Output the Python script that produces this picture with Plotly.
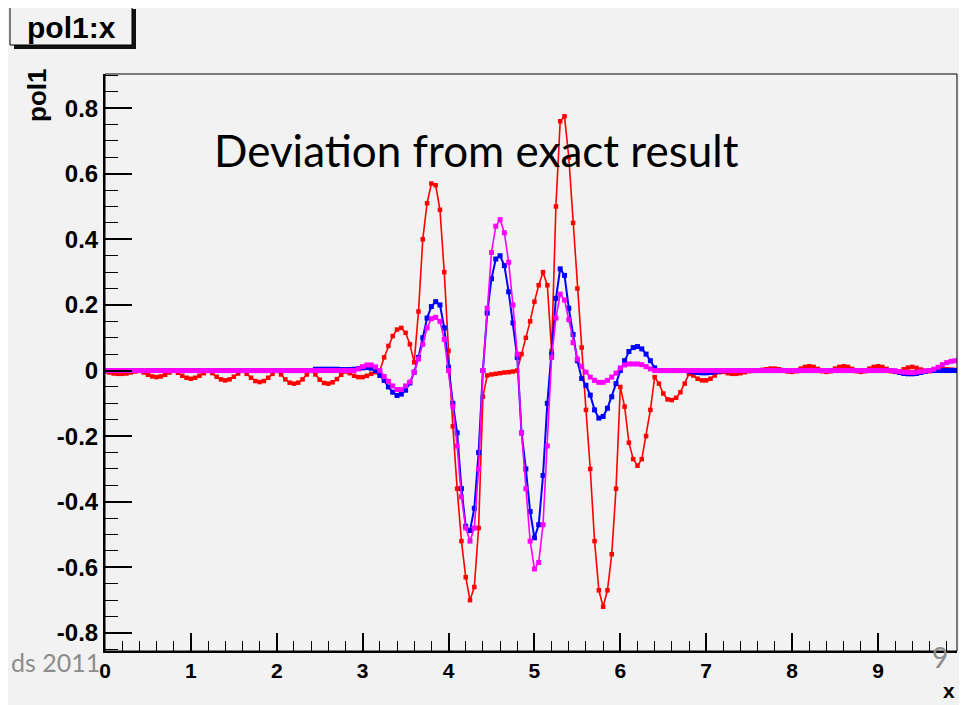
import plotly.graph_objects as go

# x sampling of the three curves (step 0.05)
x_vals = [round(0.05 * i, 2) for i in range(200)]

red_vals = [
    -0.003, -0.006, -0.009, -0.010, -0.010, -0.009, -0.006, -0.003, 0.000, -0.006, -0.013, -0.018, -0.020, -0.018, -0.013, -0.006, 0.000, -0.007, -0.016, -0.022,
    -0.025, -0.022, -0.016, -0.008, -0.001, -0.008, -0.019, -0.027, -0.030, -0.027, -0.019, -0.009, 0.000, -0.010, -0.022, -0.032, -0.035, -0.032, -0.022, -0.010,
    0.000, -0.012, -0.027, -0.037, -0.040, -0.037, -0.027, -0.012, 0.000, -0.012, -0.028, -0.038, -0.040, -0.036, -0.026, -0.013, -0.003, -0.008, -0.016, -0.020,
    -0.020, -0.016, -0.010, -0.005, 0.000, 0.040, 0.075, 0.105, 0.125, 0.130, 0.115, 0.080, 0.025, 0.180, 0.400, 0.510, 0.570, 0.565, 0.490, 0.300,
    0.060, -0.170, -0.360, -0.520, -0.630, -0.700, -0.660, -0.480, -0.080, -0.015, -0.012, -0.010, -0.008, -0.006, -0.005, -0.003, 0.000, 0.050, 0.100, 0.150,
    0.210, 0.260, 0.300, 0.260, 0.060, 0.500, 0.760, 0.775, 0.650, 0.450, 0.250, 0.070, -0.120, -0.300, -0.520, -0.670, -0.720, -0.670, -0.560, -0.360,
    -0.050, -0.110, -0.220, -0.270, -0.290, -0.270, -0.200, -0.120, -0.020, -0.040, -0.070, -0.088, -0.090, -0.083, -0.066, -0.040, -0.010, -0.015, -0.025, -0.030,
    -0.030, -0.025, -0.015, -0.005, -0.004, -0.008, -0.010, -0.010, -0.008, -0.005, -0.002, -0.001, 0.000, 0.002, 0.004, 0.006, 0.006, 0.004, 0.001, -0.003,
    -0.004, -0.002, 0.006, 0.011, 0.013, 0.011, 0.005, -0.002, -0.004, -0.002, 0.006, 0.011, 0.013, 0.011, 0.005, -0.002, -0.004, -0.002, 0.006, 0.011,
    0.013, 0.011, 0.005, -0.002, -0.004, -0.002, 0.004, 0.009, 0.011, 0.008, 0.003, -0.001, -0.002, 0.000, 0.002, 0.004, 0.004, 0.003, 0.002, 0.000,
]

blue_vals = [
    0, 0, 0, 0, 0, 0, 0, 0, 0, 0, 0, 0, 0, 0, 0, 0, 0, 0, 0, 0,
    0, 0, 0, 0, 0, 0, 0, 0, 0, 0, 0, 0, 0, 0, 0, 0, 0, 0, 0, 0,
    0, 0, 0, 0, 0, 0, 0, 0, 0, 0.004, 0.004, 0.004, 0.004, 0.004, 0.004, 0.003, 0.003, 0.003, 0.004, 0.006,
    0.008, 0.009, 0.007, 0.000, -0.015, -0.030, -0.050, -0.066, -0.076, -0.072, -0.060, -0.038, -0.005, 0.040, 0.100, 0.160, 0.195, 0.210, 0.200, 0.130,
    0.010, -0.100, -0.190, -0.360, -0.475, -0.488, -0.420, -0.250, 0.000, 0.175, 0.280, 0.340, 0.350, 0.320, 0.240, 0.145, 0.040, -0.190, -0.300, -0.430,
    -0.510, -0.470, -0.320, -0.100, 0.050, 0.220, 0.310, 0.290, 0.190, 0.110, 0.030, -0.024, -0.045, -0.075, -0.120, -0.145, -0.140, -0.115, -0.080, -0.040,
    0.000, 0.030, 0.058, 0.070, 0.073, 0.066, 0.050, 0.030, 0.008, 0.000, 0, 0, 0, 0, 0, 0, -0.002, -0.004, -0.006, -0.007,
    -0.007, -0.006, -0.004, -0.002, 0, 0, 0, 0, 0, 0, 0, 0, 0, 0, 0, 0, 0, 0, 0, 0,
    0, 0, 0, 0, 0, 0, 0, 0, 0, 0, 0, 0, 0, 0, 0, 0, 0, 0, 0, 0,
    0, 0, 0, 0, -0.002, -0.006, -0.009, -0.010, -0.010, -0.009, -0.006, -0.003, 0, 0, 0, 0, 0, 0, 0, 0,
]

magenta_vals = [
    0, 0, 0, 0, 0, 0, 0, 0, 0, 0, 0, 0, 0, 0, 0, 0, 0, 0, 0, 0,
    0, 0, 0, 0, 0, 0, 0, 0, 0, 0, 0, 0, 0, 0, 0, 0, 0, 0, 0, 0,
    0, 0, 0, 0, 0, 0, 0, 0, 0, 0, 0, 0, 0, 0, 0, 0, 0, 0, 0, 0.005,
    0.012, 0.017, 0.017, 0.011, 0.000, -0.018, -0.033, -0.047, -0.058, -0.058, -0.047, -0.035, -0.005, 0.035, 0.080, 0.130, 0.158, 0.162, 0.150, 0.095,
    0.000, -0.110, -0.230, -0.385, -0.480, -0.520, -0.480, -0.300, 0.000, 0.190, 0.360, 0.440, 0.460, 0.420, 0.330, 0.200, 0.050, -0.190, -0.360, -0.520,
    -0.605, -0.585, -0.470, -0.230, 0.040, 0.160, 0.233, 0.215, 0.155, 0.085, 0.035, 0.012, -0.005, -0.020, -0.030, -0.036, -0.036, -0.030, -0.020, -0.008,
    0.008, 0.017, 0.020, 0.020, 0.020, 0.018, 0.012, 0.005, 0.000, 0, 0, 0, 0, 0, 0, 0, 0, 0, 0, 0,
    0, 0, 0, 0, 0, 0, 0, 0, 0, 0, 0, 0, 0, 0, 0, 0, 0, 0, 0, 0,
    0, 0, 0, 0, 0, 0, 0, 0, 0, 0, 0, 0, 0, 0, 0, 0, 0, 0, 0, 0,
    0, 0, 0, 0, -0.001, -0.003, -0.005, -0.006, -0.006, -0.005, -0.003, -0.001, 0.000, 0.004, 0.010, 0.018, 0.024, 0.028, 0.030, 0.027,
]

x_range = [0, 9.92]
y_range = [-0.855, 0.904]
y_tickvals = [-0.8, -0.6, -0.4, -0.2, 0, 0.2, 0.4, 0.6, 0.8]
y_ticktext = ["-0.8", "-0.6", "-0.4", "-0.2", "0", "0.2", "0.4", "0.6", "0.8"]
x_tickvals = [0, 1, 2, 3, 4, 5, 6, 7, 8, 9]
x_ticktext = ["0", "1", "2", "3", "4", "5", "6", "7", "8", "9"]

BG = "#f2f2f2"
PAGE_W, PAGE_H = 967, 705
OFF = 8  # default body margin of the page
L, R, T, B = 105, 10, 74, 54          # plot area in page pixels
PW, PH = PAGE_W - L - R, PAGE_H - T - B


def pxx(p):
    return (p - L) / PW


def pxy(p):
    return (PAGE_H - B - p) / PH


fig = go.Figure()
series = [
    (red_vals, "#ff0000", 1.6, 4.5),
    (blue_vals, "#0000ff", 2.0, 5),
    (magenta_vals, "#ff00ff", 1.6, 5),
]
for vals, col, lw, ms in series:
    fig.add_trace(go.Scatter(
        x=x_vals, y=vals, mode="lines+markers",
        line=dict(color=col, width=lw),
        marker=dict(symbol="square", size=ms, color=col, line=dict(width=0)),
        hoverinfo="skip", showlegend=False,
    ))

fig.update_layout(
    width=PAGE_W - OFF, height=PAGE_H - OFF,
    margin=dict(l=L - OFF, r=R, t=T - OFF, b=B, pad=0),
    paper_bgcolor=BG, plot_bgcolor=BG,
    showlegend=False,
    xaxis=dict(
        range=x_range, tickvals=x_tickvals, ticktext=x_ticktext,
        ticks="inside", ticklen=18, tickwidth=1.5,
        tickcolor="black", showgrid=False, zeroline=False,
        showline=True, linecolor="black", linewidth=2,
        tickfont=dict(family="Liberation Sans", size=21, color="black", weight="bold"),
        minor=dict(dtick=0.2, tick0=0, ticks="inside", ticklen=10, tickwidth=1.2, tickcolor="black", showgrid=False),
    ),
    yaxis=dict(
        range=y_range, tickvals=y_tickvals, ticktext=y_ticktext,
        ticks="inside", ticklen=27, tickwidth=1.5,
        tickcolor="black", showgrid=False, zeroline=False,
        showline=True, linecolor="black", linewidth=2,
        tickfont=dict(family="Liberation Sans", size=24, color="black", weight="bold"),
        minor=dict(dtick=0.05, tick0=0, ticks="inside", ticklen=13, tickwidth=1.2, tickcolor="black", showgrid=False),
    ),
)

shapes = [
    dict(type="rect", xref="paper", yref="paper", x0=0, x1=1, y0=0, y1=1,
         line=dict(color="black", width=1), fillcolor="rgba(0,0,0,0)", layer="above"),
    dict(type="rect", xref="paper", yref="paper", x0=pxx(14), x1=pxx(136), y0=pxy(49), y1=pxy(9),
         line=dict(width=0), fillcolor="#111111"),
    dict(type="rect", xref="paper", yref="paper", x0=pxx(10), x1=pxx(132), y0=pxy(45), y1=pxy(5),
         line=dict(color="black", width=1), fillcolor=BG),
]
fig.update_layout(shapes=shapes)

ann = [
    dict(text="pol1:x", x=pxx(71), y=pxy(27), font=dict(family="Liberation Sans", size=30, color="black", weight="bold")),
    dict(text="pol1", x=pxx(37), y=pxy(96), textangle=-90,
         font=dict(family="Liberation Sans", size=26, color="black", weight="bold")),
    dict(text="x", x=pxx(949), y=pxy(704), yanchor="bottom",
         font=dict(family="Liberation Sans", size=21, color="black", weight="bold")),
    dict(text="Deviation from exact result", x=pxx(212), y=pxy(150), xanchor="left",
         font=dict(family="Lato", size=44, color="black")),
    dict(text="ds 2011", x=pxx(9), y=pxy(662), xanchor="left", font=dict(family="Lato", size=25, color="#8c8c8c")),
    dict(text="9", x=pxx(940), y=pxy(657), font=dict(family="Lato", size=28, color="#8c8c8c")),
]
for a in ann:
    a.update(xref="paper", yref="paper", showarrow=False)
    a.setdefault("xanchor", "center")
    a.setdefault("yanchor", "middle")
fig.update_layout(annotations=ann)

fig.write_html("out.html")
